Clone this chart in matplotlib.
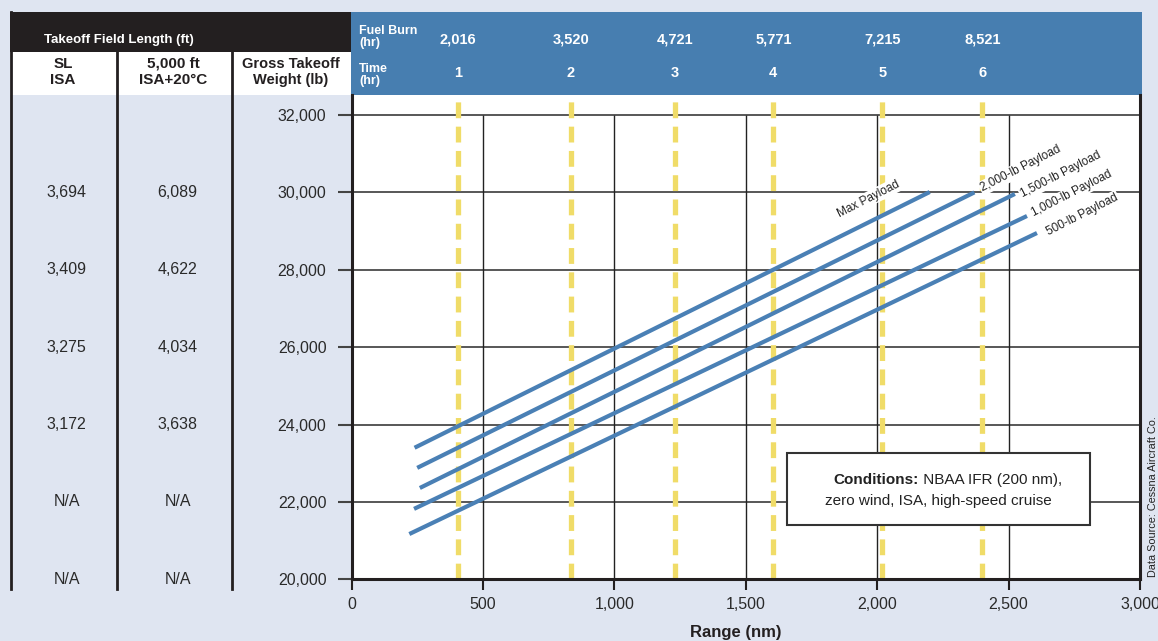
import matplotlib.pyplot as plt
import matplotlib.transforms as mtransforms
from matplotlib.patches import Rectangle

plt.rcParams['font.family'] = ['Liberation Sans', 'DejaVu Sans']

weights = [20000, 22000, 24000, 26000, 28000, 30000, 32000]
sl_isa = ['N/A', 'N/A', '3,172', '3,275', '3,409', '3,694', '']
hot_high = ['N/A', 'N/A', '3,638', '4,034', '4,622', '6,089', '']

# Time / fuel burn markers along range
time_hr = [1, 2, 3, 4, 5, 6]
time_range = [405, 835, 1230, 1605, 2020, 2400]
fuel_burn = ['2,016', '3,520', '4,721', '5,771', '7,215', '8,521']

# Payload lines (range nm, weight lb) start / end
payloads = ['Max Payload', '2,000-lb Payload', '1,500-lb Payload',
            '1,000-lb Payload', '500-lb Payload']
range_start = [240, 250, 260, 238, 220]
weight_start = [23400, 22880, 22360, 21820, 21170]
range_end = [2200, 2370, 2524, 2570, 2608]
weight_end = [30010, 30000, 29960, 29390, 28950]

range_ticks = [0, 500, 1000, 1500, 2000, 2500, 3000]

# label anchor positions (layout)
label_pos = [(1969, 29834), (2547, 30610), (2699, 30455), (2741, 29964), (2780, 29421)]

BG = '#dfe5f1'
BLUE_HDR = '#477eb0'
LINE_BLUE = '#4a80b5'
YELLOW = '#f0dc68'
DARK = '#231f20'

W, H = 1158, 641
fig = plt.figure(figsize=(W / 100, H / 100), dpi=100, facecolor=BG)

# overlay in pixel coordinates for the table/header
ov = fig.add_axes([0, 0, 1, 1], zorder=0)
ov.set_xlim(0, W)
ov.set_ylim(H, 0)
ov.axis('off')
ov.patch.set_alpha(0)

# main chart
y_bot, y_top_px = 579.3, 95
ax = fig.add_axes([351.5 / W, (H - y_bot) / H, (1140 - 351.5) / W, (y_bot - y_top_px) / H], zorder=2)
ax.set_xlim(0, 3000)
ax.set_ylim(20000, 32517)
ax.set_facecolor('white')

for s in ['left', 'bottom', 'right']:
    ax.spines[s].set_linewidth(2.2)
    ax.spines[s].set_color(DARK)
ax.spines['top'].set_visible(False)

ax.set_xticks(range_ticks)
ax.set_xticklabels([f'{v:,}' for v in range_ticks])
ax.set_yticks(weights)
ax.set_yticklabels([f'{v:,}' for v in weights])
ax.tick_params(axis='x', direction='out', length=8, width=1.5, color=DARK,
               labelsize=11.5, labelcolor='#2a2a2a', pad=5)
ax.tick_params(axis='y', direction='out', length=10, width=1.5, color='#444',
               labelsize=11.5, labelcolor='#2a2a2a', pad=8)

# grid
ax.hlines(weights[1:], 0, 3000, color='#4a4a4a', lw=1.3, zorder=1)
ax.vlines(range_ticks[1:-1], 20000, 32000, color='#222', lw=1.0, zorder=1)

# yellow time markers
for r in time_range:
    ln = ax.axvline(r, color=YELLOW, lw=3.8, zorder=2)
    ln.set_dashes((3.0, 1.6))
    ln.set_dash_capstyle('butt')

# payload lines
for x0, y0, x1, y1 in zip(range_start, weight_start, range_end, weight_end):
    ax.plot([x0, x1], [y0, y1], color=LINE_BLUE, lw=3.0, solid_capstyle='butt', zorder=3)

for name, (lx, ly) in zip(payloads, label_pos):
    ax.text(lx, ly, name, rotation=27, rotation_mode='anchor', ha='center', va='center',
            fontsize=8.5, color='#222', zorder=4,
            bbox=dict(boxstyle='square,pad=0.12', fc='white', ec='none'))

# conditions box
ax.add_patch(Rectangle((0.552, 0.112), 0.3846, 0.1488, transform=ax.transAxes,
                       fc='white', ec='#333', lw=1.5, zorder=5))
ax.text(0.7195, 0.205, 'Conditions:', transform=ax.transAxes, ha='right', va='center',
        fontsize=11, fontweight='bold', color='#222', zorder=6)
ax.text(0.7195, 0.205, ' NBAA IFR (200 nm),', transform=ax.transAxes, ha='left', va='center',
        fontsize=11, color='#222', zorder=6)
ax.text(0.7445, 0.1617, 'zero wind, ISA, high-speed cruise', transform=ax.transAxes,
        ha='center', va='center', fontsize=11, color='#222', zorder=6)

# ---- header / table in pixel coords ----
ov.add_patch(Rectangle((10, 12), 341, 40, fc=DARK, ec='none'))
ov.add_patch(Rectangle((10, 52), 341, 43, fc='white', ec='none'))
ov.add_patch(Rectangle((351, 12), 791, 83, fc=BLUE_HDR, ec='none'))
for xd in [11, 117.3, 231.7]:
    ov.plot([xd, xd], [12 if xd == 11 else 52, 589], color=DARK, lw=2.0)

ov.text(119, 40, 'Takeoff Field Length (ft)', ha='center', va='center', color='white',
        fontsize=9.5, fontweight='bold')
ov.text(63, 72, 'SL\nISA', ha='center', va='center', fontsize=11, fontweight='bold',
        color=DARK, linespacing=1.2)
ov.text(173, 72, '5,000 ft\nISA+20°C', ha='center', va='center', fontsize=11,
        fontweight='bold', color=DARK, linespacing=1.2)
ov.text(291, 72, 'Gross Takeoff\nWeight (lb)', ha='center', va='center', fontsize=10.5,
        fontweight='bold', color=DARK, linespacing=1.2)
ov.text(359, 37, 'Fuel Burn\n(hr)', ha='left', va='center', fontsize=9,
        fontweight='bold', color='white', linespacing=1.1)
ov.text(359, 75, 'Time\n(hr)', ha='left', va='center', fontsize=9,
        fontweight='bold', color='white', linespacing=1.1)

hdr = mtransforms.blended_transform_factory(ax.transData, ov.transData)
for r, fb, t in zip(time_range, fuel_burn, time_hr):
    ov.text(r, 40, fb, transform=hdr, ha='center', va='center', fontsize=10.5,
            fontweight='bold', color='white')
    ov.text(r, 73, str(t), transform=hdr, ha='center', va='center', fontsize=10.5,
            fontweight='bold', color='white')

rows = mtransforms.blended_transform_factory(ov.transData, ax.transData)
for w, a, b in zip(weights, sl_isa, hot_high):
    ov.text(66.7, w, a, transform=rows, ha='center', va='center', fontsize=11.5, color='#2a2a2a')
    ov.text(177.7, w, b, transform=rows, ha='center', va='center', fontsize=11.5, color='#2a2a2a')

ov.text(736, 633, 'Range (nm)', ha='center', va='center', fontsize=12,
        fontweight='bold', color=DARK)
ov.text(1153, 497, 'Data Source: Cessna Aircraft Co.', rotation=90, ha='center',
        va='center', fontsize=7.8, color='#222')

fig.savefig('out.png', dpi=100, facecolor=BG)
